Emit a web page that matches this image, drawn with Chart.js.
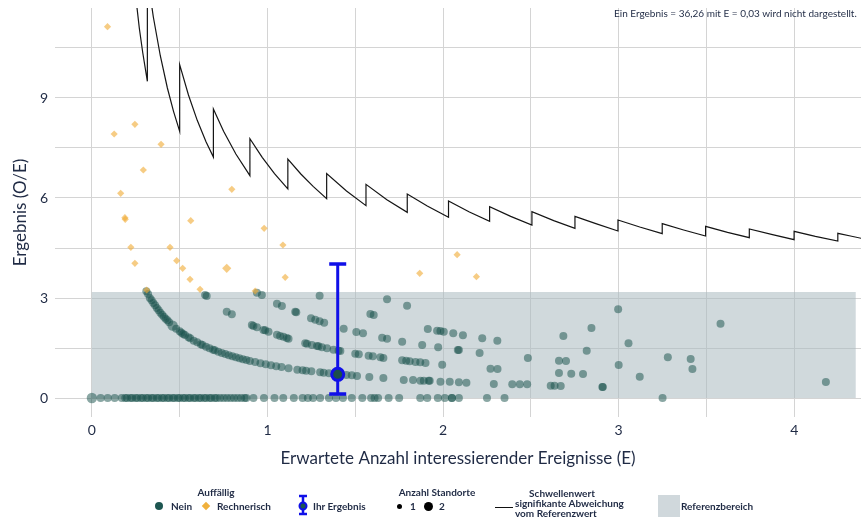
<!DOCTYPE html>
<html><head><meta charset="utf-8">
<script src="https://cdn.jsdelivr.net/npm/chart.js@4"></script>
<style>
html,body{margin:0;padding:0;background:#fff;}
#wrap{position:relative;width:861px;height:521px;overflow:hidden;font-family:Lato,'Open Sans',sans-serif;color:#1f2a44;}
canvas{position:absolute;left:0;top:0;}
.t{position:absolute;white-space:nowrap;font-size:10px;font-weight:700;line-height:12px;}
.c{transform:translate(-50%,-50%);}
.l{transform:translateY(-50%);}
.m{position:absolute;}
</style></head><body>
<div id="wrap">
<canvas id="c" width="861" height="521"></canvas>
<div class="t l" style="left:614px;top:13px;font-size:10px;font-weight:400;">Ein Ergebnis = 36,26 mit E = 0,03 wird nicht dargestellt.</div>

<div class="t c" style="left:216px;top:492px;">Auffällig</div>
<div class="m" style="left:155px;top:502px;width:8px;height:8px;border-radius:50%;background:#1d5651;"></div>
<div class="t l" style="left:171px;top:506px;">Nein</div>
<div class="m" style="left:202.5px;top:503px;width:6px;height:6px;background:#f0b03c;transform:rotate(45deg);"></div>
<div class="t l" style="left:217px;top:506px;">Rechnerisch</div>

<svg class="m" style="left:295px;top:492px;" width="16" height="26" viewBox="295 492 16 26">
  <line x1="303" y1="496" x2="303" y2="514" stroke="#1010e8" stroke-width="2.5"/>
  <line x1="299" y1="496" x2="307" y2="496" stroke="#1010e8" stroke-width="2.5"/>
  <line x1="299" y1="514" x2="307" y2="514" stroke="#1010e8" stroke-width="2.5"/>
  <circle cx="303" cy="506" r="3.5" fill="#1d5651" stroke="#1010e8" stroke-width="2"/>
</svg>
<div class="t l" style="left:313px;top:506px;">Ihr Ergebnis</div>

<div class="t c" style="left:437px;top:492px;">Anzahl Standorte</div>
<div class="m" style="left:396.5px;top:503.5px;width:5px;height:5px;border-radius:50%;background:#000;"></div>
<div class="t c" style="left:413px;top:506px;">1</div>
<div class="m" style="left:423.5px;top:501.5px;width:9px;height:9px;border-radius:50%;background:#000;"></div>
<div class="t c" style="left:442px;top:506px;">2</div>

<div class="m" style="left:495px;top:507px;width:18px;height:1px;background:#111;"></div>
<div class="t c" style="left:562px;top:493px;">Schwellenwert</div>
<div class="t l" style="left:515px;top:503px;">signifikante Abweichung</div>
<div class="t l" style="left:515px;top:513px;">vom Referenzwert</div>

<div class="m" style="left:658px;top:495px;width:22px;height:22px;background:#d0d8dc;"></div>
<div class="t l" style="left:681px;top:506px;">Referenzbereich</div>
</div>
<script>
// ---- axes ----
const xGridValues = [0, 0.5, 1, 1.5, 2, 2.5, 3, 3.5, 4];
const xLabelValues = [0, 1, 2, 3, 4];
const yGridValues = [0, 1.5, 3, 4.5, 6, 7.5, 9, 10.5];
const yLabelValues = [0, 3, 6, 9];

// ---- reference range ----
const refBandE = [0, 4.35];
const refBandV = [0, 3.18];

// ---- your result ----
const ihrE = 1.40;
const ihrV = 0.71;
const ihrLow = 0.12;
const ihrHigh = 4.02;

// ---- "Nein" (not conspicuous) sites: E, O/E ----
const neinE = [
  0, 0.05, 0.09, 0.13, 0.17, 0.19, 0.2, 0.22, 0.23, 0.25,
  0.26, 0.28, 0.29, 0.31, 0.32, 0.34, 0.35, 0.37, 0.38, 0.4,
  0.41, 0.43, 0.44, 0.46, 0.47, 0.49, 0.5, 0.52, 0.53, 0.55,
  0.56, 0.58, 0.59, 0.61, 0.62, 0.64, 0.65, 0.67, 0.68, 0.7,
  0.71, 0.73, 0.75, 0.77, 0.79, 0.81, 0.83, 0.85, 0.87, 0.88,
  0.92, 0.98, 1.04, 1.09, 1.15, 1.2, 1.23, 1.26, 1.3, 1.35,
  1.39, 1.43, 1.48, 1.54, 1.59, 1.61, 1.63, 1.69, 1.75, 1.87,
  1.91, 1.97, 2.01, 2.05, 2.05, 2.09, 2.25, 2.35, 3.25,
  0.31, 0.32, 0.33, 0.34, 0.35, 0.36, 0.37, 0.38, 0.39, 0.4, 0.41, 0.42, 0.43, 0.44,
  0.46, 0.48, 0.5, 0.51, 0.52, 0.53, 0.55, 0.56, 0.58, 0.6,
  0.62, 0.63, 0.65, 0.67, 0.69, 0.7, 0.72, 0.74, 0.76, 0.78,
  0.8, 0.82, 0.84, 0.86, 0.88, 0.9, 0.93, 0.96, 0.99, 1.02,
  1.05, 1.08, 1.12, 1.17, 1.2, 1.22, 1.25, 1.3, 1.32, 1.35,
  1.45, 1.48, 1.51, 1.58, 1.66,
  1.776, 1.829, 1.871, 1.89, 1.918, 1.924, 1.985, 2.038, 2.09, 2.133,
  2.289, 2.394, 2.437, 2.479, 2.613, 2.635, 2.67, 2.907, 2.91,
  0.645, 0.654, 0.768, 0.797, 0.911, 0.92, 0.94, 0.977, 0.987, 1.006,
  1.054, 1.072, 1.091, 1.11, 1.12, 1.215, 1.225, 1.253, 1.282, 1.291,
  1.31, 1.339, 1.376, 1.405, 1.415, 1.5, 1.52, 1.576, 1.6, 1.643,
  1.66, 1.767, 1.79, 1.81, 1.843, 1.87, 1.9, 1.995, 2.27, 2.31,
  2.66, 2.73, 2.797, 3.12, 4.18,
  0.94, 0.968, 1.054, 1.082, 1.158, 1.164, 1.248, 1.272, 1.297,
  1.323, 1.434, 1.506, 1.544, 1.653, 1.681, 1.767, 1.881, 1.972, 2.084,
  2.09, 2.208, 2.483, 2.66, 2.70, 3.0, 3.42,
  1.297, 1.586, 1.605, 1.913, 1.966, 1.985, 2.004, 2.058, 2.113, 2.223,
  2.309, 2.818, 3.28, 3.41,
  1.681, 1.795, 2.685, 3.056,
  2.845, 2.997, 3.58
];
const neinV = [
  0, 0, 0, 0, 0, 0, 0, 0, 0, 0,
  0, 0, 0, 0, 0, 0, 0, 0, 0, 0,
  0, 0, 0, 0, 0, 0, 0, 0, 0, 0,
  0, 0, 0, 0, 0, 0, 0, 0, 0, 0,
  0, 0, 0, 0, 0, 0, 0, 0, 0, 0,
  0, 0, 0, 0, 0, 0, 0, 0, 0, 0,
  0, 0, 0, 0, 0, 0, 0, 0, 0, 0,
  0, 0, 0, 0, 0, 0, 0, 0, 0,
  3.2, 3.12, 3.0, 2.93, 2.85, 2.78, 2.7, 2.63, 2.56, 2.5, 2.44, 2.38, 2.33, 2.27,
  2.17, 2.08, 2.0, 1.96, 1.92, 1.89, 1.82, 1.79, 1.72, 1.67,
  1.61, 1.59, 1.54, 1.49, 1.45, 1.43, 1.39, 1.35, 1.32, 1.28,
  1.25, 1.22, 1.19, 1.16, 1.14, 1.11, 1.08, 1.04, 1.01, 0.98,
  0.95, 0.93, 0.89, 0.85, 0.83, 0.82, 0.8, 0.77, 0.76, 0.74,
  0.69, 0.68, 0.66, 0.63, 0.6,
  0.54, 0.54, 0.52, 0.52, 0.52, 0.52, 0.49, 0.49, 0.47, 0.46,
  0.42, 0.41, 0.41, 0.41, 0.37, 0.37, 0.36, 0.33, 0.33,
  3.09, 3.06, 2.59, 2.51, 2.19, 2.16, 2.12, 2.04, 2.03, 1.99,
  1.9, 1.86, 1.84, 1.8, 1.78, 1.64, 1.63, 1.59, 1.56, 1.55,
  1.52, 1.49, 1.45, 1.42, 1.41, 1.33, 1.31, 1.27, 1.25, 1.22,
  1.2, 1.13, 1.12, 1.1, 1.08, 1.07, 1.05, 1.0, 0.88, 0.87,
  0.75, 0.73, 0.72, 0.64, 0.48,
  3.16, 3.09, 2.83, 2.76, 2.59, 2.57, 2.39, 2.35, 2.3,
  2.26, 2.08, 1.98, 1.94, 1.81, 1.78, 1.69, 1.59, 1.52, 1.44,
  1.44, 1.35, 1.2, 1.12, 1.11, 0.99, 0.87,
  3.07, 2.52, 2.49, 2.07, 2.02, 2.01, 1.99, 1.94, 1.88, 1.79,
  1.72, 1.42, 1.22, 1.17,
  2.96, 2.77, 1.86, 1.64,
  2.1, 2.66, 2.23
];
// entries (index in neinE) that stand for 2 sites
const neinTwoSites = [0, 93];

// ---- "Rechnerisch" (computationally conspicuous) ----
const rechE = [0.089, 0.127, 0.245, 0.394, 0.293, 0.164, 0.188, 0.19, 0.563, 0.797,
  0.981, 1.088, 0.222, 0.445, 0.245, 0.483, 0.517, 0.559, 0.616, 0.768,
  1.101, 0.930, 0.312, 1.867, 2.08, 2.19];
const rechV = [11.14, 7.92, 8.21, 7.61, 6.84, 6.14, 5.41, 5.36, 5.32, 6.26,
  5.09, 4.59, 4.52, 4.52, 4.04, 4.12, 3.89, 3.56, 3.26, 3.89,
  3.62, 3.21, 3.24, 3.74, 4.30, 3.64];
const rechTwoSites = [19];

// ---- threshold: significant deviation from reference value ----
const threshE = [0.24, 0.27, 0.29, 0.316,
  0.316, 0.35, 0.39, 0.43, 0.465, 0.5,
  0.5, 0.55, 0.6, 0.65, 0.692,
  0.692, 0.75, 0.82, 0.9,
  0.9, 0.97, 1.04, 1.116,
  1.116, 1.19, 1.26, 1.337,
  1.337, 1.45, 1.561,
  1.561, 1.68, 1.796,
  1.796, 1.91, 2.031,
  2.031, 2.15, 2.265,
  2.265, 2.385, 2.506,
  2.506, 2.63, 2.751,
  2.751, 2.87, 2.996,
  2.996, 3.12, 3.248,
  3.248, 3.37, 3.495,
  3.495, 3.62, 3.744,
  3.744, 3.87, 3.999,
  3.999, 4.12, 4.248,
  4.248, 4.32, 4.4];
const threshV = [12.5, 11.1, 10.35, 9.5,
  12.66, 11.43, 10.26, 9.3, 8.6, 8.0,
  10.0, 9.09, 8.33, 7.69, 7.23,
  8.67, 8.0, 7.32, 6.67,
  7.78, 7.22, 6.73, 6.27,
  7.17, 6.72, 6.35, 5.98,
  6.73, 6.21, 5.77,
  6.41, 5.95, 5.57,
  6.12, 5.76, 5.42,
  5.91, 5.58, 5.30,
  5.74, 5.45, 5.19,
  5.59, 5.32, 5.09,
  5.45, 5.23, 5.01,
  5.34, 5.13, 4.93,
  5.23, 5.04, 4.86,
  5.15, 4.97, 4.81,
  5.07, 4.91, 4.75,
  5.0, 4.85, 4.71,
  4.94, 4.86, 4.77];

const textColor = '#1f2a44';
Chart.defaults.font.family = 'Lato';

const bandPlugin = {
  id: 'band',
  beforeDatasetsDraw(chart) {
    const { ctx, scales: { x, y } } = chart;
    const x0 = x.getPixelForValue(refBandE[0]), x1 = x.getPixelForValue(refBandE[1]);
    const y0 = y.getPixelForValue(refBandV[0]), y1 = y.getPixelForValue(refBandV[1]);
    ctx.save();
    ctx.fillStyle = 'rgba(170,185,192,0.55)';
    ctx.fillRect(x0, y1, x1 - x0, y0 - y1);
    ctx.restore();
  }
};
const ihrPlugin = {
  id: 'ihr',
  afterDatasetsDraw(chart) {
    const { ctx, scales: { x, y } } = chart;
    const px = x.getPixelForValue(ihrE);
    const py = y.getPixelForValue(ihrV);
    const pLo = y.getPixelForValue(ihrLow);
    const pHi = y.getPixelForValue(ihrHigh);
    ctx.save();
    ctx.strokeStyle = '#1010e8';
    ctx.lineWidth = 3;
    ctx.beginPath(); ctx.moveTo(px, pHi); ctx.lineTo(px, pLo); ctx.stroke();
    ctx.lineWidth = 3.5;
    ctx.beginPath();
    ctx.moveTo(px - 8.5, pHi); ctx.lineTo(px + 8.5, pHi);
    ctx.moveTo(px - 8.5, pLo); ctx.lineTo(px + 8.5, pLo);
    ctx.stroke();
    ctx.beginPath(); ctx.arc(px, py, 6, 0, Math.PI * 2);
    ctx.fillStyle = '#1b4f4a'; ctx.fill();
    ctx.lineWidth = 3; ctx.stroke();
    ctx.restore();
  }
};

new Chart(document.getElementById('c'), {
  type: 'scatter',
  data: {
    datasets: [
      {
        label: 'Schwellenwert', type: 'line',
        data: threshE.map((e, i) => ({ x: e, y: threshV[i] })),
        borderColor: '#151515', borderWidth: 1.2, pointRadius: 0, fill: false,
        tension: 0, clip: 0, order: 0
      },
      {
        label: 'Rechnerisch',
        data: rechE.map((e, i) => ({ x: e, y: rechV[i] })),
        pointStyle: 'rectRot',
        pointRadius: rechE.map((e, i) => rechTwoSites.includes(i) ? 4.6 : 3.6),
        backgroundColor: 'rgba(240,170,50,0.6)', borderWidth: 0, order: 1
      },
      {
        label: 'Nein',
        data: neinE.map((e, i) => ({ x: e, y: neinV[i] })),
        pointStyle: 'circle',
        pointRadius: neinE.map((e, i) => neinTwoSites.includes(i) ? 5.2 : 4),
        backgroundColor: 'rgba(22,80,74,0.5)', borderWidth: 0, order: 2
      }
    ]
  },
  options: {
    responsive: false, animation: false, devicePixelRatio: 1, events: [],
    layout: { autoPadding: false, padding: { left: 0, right: 0, top: 8, bottom: 41 } },
    plugins: { legend: { display: false }, tooltip: { enabled: false } },
    scales: {
      x: {
        type: 'linear', min: -0.21, max: 4.38,
        afterBuildTicks: s => { s.ticks = xGridValues.map(v => ({ value: v })); },
        afterFit: s => { s.height = 63; s.paddingLeft = 0; s.paddingRight = 0; },
        grid: { color: '#d4d4d4', lineWidth: 1, drawTicks: false },
        border: { display: false },
        ticks: {
          autoSkip: false, maxRotation: 0, padding: 5, color: textColor,
          font: { size: 14 },
          callback: v => xLabelValues.includes(v) ? String(v) : ''
        },
        title: {
          display: true, text: 'Erwartete Anzahl interessierender Ereignisse (E)',
          color: textColor, font: { size: 17 }, padding: { top: 0, bottom: 11 }
        }
      },
      y: {
        type: 'linear', min: -0.57, max: 11.7,
        afterBuildTicks: s => { s.ticks = yGridValues.map(v => ({ value: v })); },
        afterFit: s => { s.width = 55; s.paddingTop = 0; s.paddingBottom = 0; },
        grid: { color: '#d4d4d4', lineWidth: 1, drawTicks: false },
        border: { display: false },
        ticks: {
          autoSkip: false, padding: 7, color: textColor, font: { size: 14 },
          callback: v => yLabelValues.includes(v) ? String(v) : ''
        },
        title: {
          display: true, text: 'Ergebnis (O/E)',
          color: textColor, font: { size: 17 }, padding: { top: 10, bottom: 0 }
        }
      }
    }
  },
  plugins: [bandPlugin, ihrPlugin]
});
</script>
</body></html>
